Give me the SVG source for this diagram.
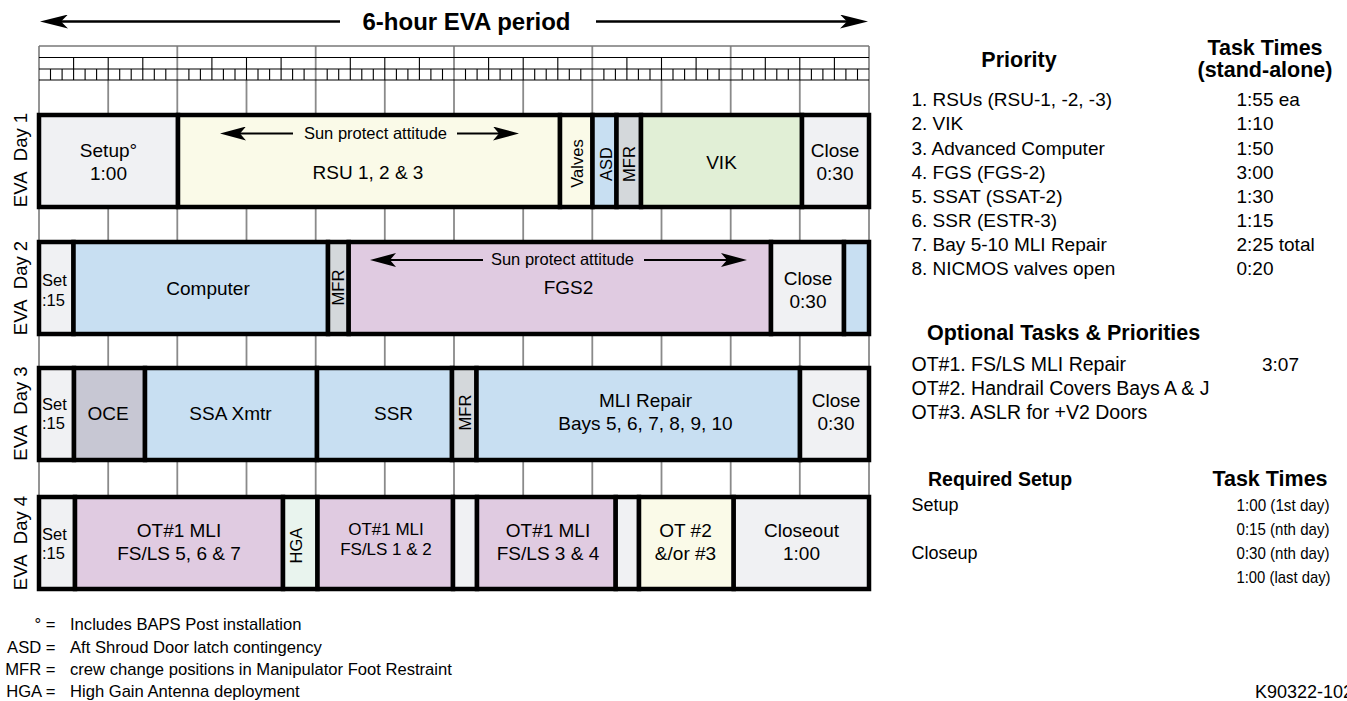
<svg xmlns="http://www.w3.org/2000/svg" width="1347" height="701" viewBox="0 0 1347 701">
<style>
text{font-family:"Liberation Sans",Arial,Helvetica,sans-serif;fill:#000}
.c{stroke:#000;stroke-width:4.5}
.lt{fill:#f0f1f3}.ye{fill:#fafae8}.bl{fill:#c8dff2}.mf{fill:#d4d8db}.gr{fill:#e1efd6}.pu{fill:#e0cbe1}.oc{fill:#c7c7d3}.hg{fill:#e9f4ee}
.t{font-size:19px;text-anchor:middle}
.t17{font-size:17px;text-anchor:middle}
.s{font-size:16.5px}
.v{font-size:16.5px;text-anchor:middle}
.sun{font-size:16.5px;text-anchor:middle}
.day{font-size:18.5px;text-anchor:middle}
.hdr{font-size:24px;font-weight:bold;text-anchor:middle}
.b{font-size:21.5px;font-weight:bold}
.r{font-size:19px}
.rs{font-size:18px}
.tm{font-size:17px}
.f{font-size:16.6px}
.fe{font-size:16.6px;text-anchor:end}
.hr{stroke:#8a8a8a;stroke-width:1.8;fill:none}
.q{stroke:#000;stroke-width:1.1;fill:none}
.ar{stroke:#000;fill:none}
</style>
<defs>
<marker id="big" viewBox="0 0 28 14" refX="16" refY="7" markerWidth="28" markerHeight="14" markerUnits="userSpaceOnUse" orient="auto"><path d="M0,0 L28,7 L0,14 L7,7 Z" fill="#000"/></marker>
<marker id="sm" viewBox="0 0 26 14" refX="14" refY="7" markerWidth="26" markerHeight="14" markerUnits="userSpaceOnUse" orient="auto"><path d="M0,0 L26,7 L0,14 L6,7 Z" fill="#000"/></marker>
</defs>
<rect width="1347" height="701" fill="#fff"/>

<g id="ruler">
<path class="hr" d="M39 46V497M177.3 46V497M315.7 46V497M454 46V497M592.3 46V497M730.7 46V497M869 46V497"/>
<path class="hr" d="M108.2 80V497M246.5 80V497M384.8 80V497M523.2 80V497M661.5 80V497M799.8 80V497"/>
<path d="M39 46H869" stroke="#777" stroke-width="1.4" fill="none"/>
<path class="q" d="M39 57.5H869M39 69H869M39 80H869"/>
<path class="q" d="M73.6 57.5V80M108.2 57.5V80M142.8 57.5V80M211.9 57.5V80M246.5 57.5V80M281.1 57.5V80M350.3 57.5V80M384.8 57.5V80M419.4 57.5V80M488.6 57.5V80M523.2 57.5V80M557.8 57.5V80M626.9 57.5V80M661.5 57.5V80M696.1 57.5V80M765.3 57.5V80M799.8 57.5V80M834.4 57.5V80"/>
<path class="q" stroke-width="1" d="M50.5 69V80M62.1 69V80M85.1 69V80M96.6 69V80M119.7 69V80M131.2 69V80M154.3 69V80M165.8 69V80M188.9 69V80M200.4 69V80M223.4 69V80M235 69V80M258 69V80M269.6 69V80M292.6 69V80M304.1 69V80M327.2 69V80M338.7 69V80M361.8 69V80M373.3 69V80M396.4 69V80M407.9 69V80M430.9 69V80M442.5 69V80M465.5 69V80M477.1 69V80M500.1 69V80M511.6 69V80M534.7 69V80M546.2 69V80M569.3 69V80M580.8 69V80M603.9 69V80M615.4 69V80M638.4 69V80M650 69V80M673 69V80M684.6 69V80M707.6 69V80M719.1 69V80M742.2 69V80M753.7 69V80M776.8 69V80M788.3 69V80M811.4 69V80M822.9 69V80M845.9 69V80M857.5 69V80"/>
</g>

<g id="title">
<text class="hdr" x="466.5" y="30">6-hour EVA period</text>
</g>

<g id="day-labels">
<text class="day" transform="translate(27,160) rotate(-90)">EVA&#160; Day 1</text>
<text class="day" transform="translate(27,288) rotate(-90)">EVA&#160; Day 2</text>
<text class="day" transform="translate(27,413.5) rotate(-90)">EVA&#160; Day 3</text>
<text class="day" transform="translate(27,543) rotate(-90)">EVA&#160; Day 4</text>
</g>

<g id="day1">
<g id="d1-setup"><rect class="c lt" x="39" y="115" width="139" height="92"/><text class="t" x="108.5" y="157">Setup°</text><text class="t" x="108.5" y="180">1:00</text></g>
<g id="d1-rsu"><rect class="c ye" x="178" y="115" width="382" height="92"/><text class="sun" x="375.5" y="139">Sun protect attitude</text><text class="t" x="368" y="179">RSU 1, 2 &amp; 3</text></g>
<g id="d1-valves"><rect class="c ye" x="560" y="115" width="32.5" height="92"/><text class="v" transform="translate(583,163.5) rotate(-90)">Valves</text></g>
<g id="d1-asd"><rect class="c bl" x="592.5" y="115" width="24" height="92"/><text class="v" transform="translate(611.5,164) rotate(-90)">ASD</text></g>
<g id="d1-mfr"><rect class="c mf" x="616.5" y="115" width="24.5" height="92"/><text class="v" transform="translate(635,164) rotate(-90)">MFR</text></g>
<g id="d1-vik"><rect class="c gr" x="641" y="115" width="161" height="92"/><text class="t" x="721.5" y="169">VIK</text></g>
<g id="d1-close"><rect class="c lt" x="802" y="115" width="67" height="92"/><text class="t" x="835" y="157">Close</text><text class="t" x="835" y="180">0:30</text></g>
</g>

<g id="day2">
<g id="d2-set"><rect class="c lt" x="39" y="242" width="34.5" height="92"/><text class="s" x="42" y="286">Set</text><text class="s" x="42" y="306">:15</text></g>
<g id="d2-computer"><rect class="c bl" x="73.5" y="242" width="254.5" height="92"/><text class="t" x="208" y="295">Computer</text></g>
<g id="d2-mfr"><rect class="c mf" x="328" y="242" width="20.7" height="92"/><text class="v" transform="translate(344,287.5) rotate(-90)">MFR</text></g>
<g id="d2-fgs2"><rect class="c pu" x="348.7" y="242" width="422.3" height="92"/><text class="sun" x="562.5" y="265">Sun protect attitude</text><text class="t" x="568.5" y="293.5">FGS2</text></g>
<g id="d2-close"><rect class="c lt" x="771" y="242" width="73" height="92"/><text class="t" x="808" y="285">Close</text><text class="t" x="808" y="308">0:30</text></g>
<g id="d2-end"><rect class="c bl" x="844" y="242" width="25" height="92"/></g>
</g>

<g id="day3">
<g id="d3-set"><rect class="c lt" x="39" y="368" width="35" height="92"/><text class="s" x="42" y="410">Set</text><text class="s" x="42" y="429">:15</text></g>
<g id="d3-oce"><rect class="c oc" x="74" y="368" width="71" height="92"/><text class="t" x="108" y="420">OCE</text></g>
<g id="d3-ssa"><rect class="c bl" x="145" y="368" width="172" height="92"/><text class="t" x="230.5" y="420">SSA Xmtr</text></g>
<g id="d3-ssr"><rect class="c bl" x="317" y="368" width="135" height="92"/><text class="t" x="393.5" y="420">SSR</text></g>
<g id="d3-mfr"><rect class="c mf" x="452" y="368" width="24.5" height="92"/><text class="v" transform="translate(470.5,412.5) rotate(-90)">MFR</text></g>
<g id="d3-mli"><rect class="c bl" x="476.5" y="368" width="323.5" height="92"/><text class="t" x="645.5" y="407">MLI Repair</text><text class="t" x="645.5" y="430">Bays 5, 6, 7, 8, 9, 10</text></g>
<g id="d3-close"><rect class="c lt" x="800" y="368" width="69" height="92"/><text class="t" x="836" y="407">Close</text><text class="t" x="836" y="430">0:30</text></g>
</g>

<g id="day4">
<g id="d4-set"><rect class="c lt" x="39" y="497" width="36" height="92"/><text class="s" x="42" y="540">Set</text><text class="s" x="42" y="559">:15</text></g>
<g id="d4-ot1a"><rect class="c pu" x="75" y="497" width="208" height="92"/><text class="t" x="179" y="537">OT#1 MLI</text><text class="t" x="179" y="559.5">FS/LS 5, 6 &amp; 7</text></g>
<g id="d4-hga"><rect class="c hg" x="283" y="497" width="34.5" height="92"/><text class="v" transform="translate(302,545.5) rotate(-90)">HGA</text></g>
<g id="d4-ot1b"><rect class="c pu" x="317.5" y="497" width="135.5" height="92"/><text class="t17" x="386" y="535">OT#1 MLI</text><text class="t17" x="386" y="555">FS/LS 1 &amp; 2</text></g>
<g id="d4-gap1"><rect class="c lt" x="453" y="497" width="24" height="92"/></g>
<g id="d4-ot1c"><rect class="c pu" x="477" y="497" width="138.7" height="92"/><text class="t" x="548" y="537">OT#1 MLI</text><text class="t" x="548" y="559.5">FS/LS 3 &amp; 4</text></g>
<g id="d4-gap2"><rect class="c lt" x="615.7" y="497" width="23.3" height="92"/></g>
<g id="d4-ot2"><rect class="c ye" x="639" y="497" width="94.7" height="92"/><text class="t" x="685.5" y="537">OT #2</text><text class="t" x="685.5" y="560">&amp;/or #3</text></g>
<g id="d4-closeout"><rect class="c lt" x="733.7" y="497" width="135.3" height="92"/><text class="t" x="801.5" y="537">Closeout</text><text class="t" x="801.5" y="560">1:00</text></g>
</g>

<g id="connectors">
<line class="ar" stroke-width="2.5" x1="340" y1="21.5" x2="52" y2="21.5" marker-end="url(#big)"/>
<line class="ar" stroke-width="2.5" x1="596" y1="21.5" x2="856" y2="21.5" marker-end="url(#big)"/>
<line class="ar" stroke-width="2" x1="293" y1="133.5" x2="232" y2="133.5" marker-end="url(#sm)"/>
<line class="ar" stroke-width="2" x1="457" y1="133.5" x2="507" y2="133.5" marker-end="url(#sm)"/>
<line class="ar" stroke-width="2" x1="483" y1="260" x2="382" y2="260" marker-end="url(#sm)"/>
<line class="ar" stroke-width="2" x1="644" y1="260" x2="735" y2="260" marker-end="url(#sm)"/>
</g>

<g id="priority-table">
<text class="b" x="1019" y="67" text-anchor="middle">Priority</text>
<text class="b" x="1265" y="55" text-anchor="middle">Task Times</text>
<text class="b" x="1265" y="77" text-anchor="middle">(stand-alone)</text>
<text class="r" x="911.5" y="106">1. RSUs (RSU-1, -2, -3)</text>
<text class="r" x="911.5" y="130">2. VIK</text>
<text class="r" x="911.5" y="154.5">3. Advanced Computer</text>
<text class="r" x="911.5" y="178.5">4. FGS (FGS-2)</text>
<text class="r" x="911.5" y="202.5">5. SSAT (SSAT-2)</text>
<text class="r" x="911.5" y="226.5">6. SSR (ESTR-3)</text>
<text class="r" x="911.5" y="251">7. Bay 5-10 MLI Repair</text>
<text class="r" x="911.5" y="275">8. NICMOS valves open</text>
<text class="r" x="1236.5" y="106">1:55 ea</text>
<text class="r" x="1236.5" y="130">1:10</text>
<text class="r" x="1236.5" y="154.5">1:50</text>
<text class="r" x="1236.5" y="178.5">3:00</text>
<text class="r" x="1236.5" y="202.5">1:30</text>
<text class="r" x="1236.5" y="226.5">1:15</text>
<text class="r" x="1236.5" y="251">2:25 total</text>
<text class="r" x="1236.5" y="275">0:20</text>
</g>

<g id="optional-table">
<text class="b" x="927" y="340">Optional Tasks &amp; Priorities</text>
<text class="r" x="911.5" y="371" style="font-size:19.5px">OT#1. FS/LS MLI Repair</text>
<text class="r" x="1262" y="371">3:07</text>
<text class="r" x="911.5" y="395" style="font-size:19.5px">OT#2. Handrail Covers Bays A &amp; J</text>
<text class="r" x="911.5" y="418.5" style="font-size:19.5px">OT#3. ASLR for +V2 Doors</text>
</g>

<g id="setup-table">
<text class="b" x="928" y="486" style="font-size:19.5px">Required Setup</text>
<text class="b" x="1270" y="486" text-anchor="middle">Task Times</text>
<text class="rs" x="911.5" y="511">Setup</text>
<text class="rs" x="911.5" y="559">Closeup</text>
<text class="tm" x="1236.5" y="511" textLength="93" lengthAdjust="spacingAndGlyphs">1:00 (1st day)</text>
<text class="tm" x="1236.5" y="535" textLength="93" lengthAdjust="spacingAndGlyphs">0:15 (nth day)</text>
<text class="tm" x="1236.5" y="559" textLength="93" lengthAdjust="spacingAndGlyphs">0:30 (nth day)</text>
<text class="tm" x="1236.5" y="583" textLength="94" lengthAdjust="spacingAndGlyphs">1:00 (last day)</text>
</g>

<g id="legend">
<text class="fe" x="55.5" y="630">° =</text>
<text class="f" x="70" y="630">Includes BAPS Post installation</text>
<text class="fe" x="55.5" y="653">ASD =</text>
<text class="f" x="70" y="653">Aft Shroud Door latch contingency</text>
<text class="fe" x="55.5" y="675">MFR =</text>
<text class="f" x="70" y="675">crew change positions in Manipulator Foot Restraint</text>
<text class="fe" x="55.5" y="697">HGA =</text>
<text class="f" x="70" y="697">High Gain Antenna deployment</text>
<text class="f" x="1255" y="698" style="font-size:18px">K90322-102</text>
</g>
</svg>
